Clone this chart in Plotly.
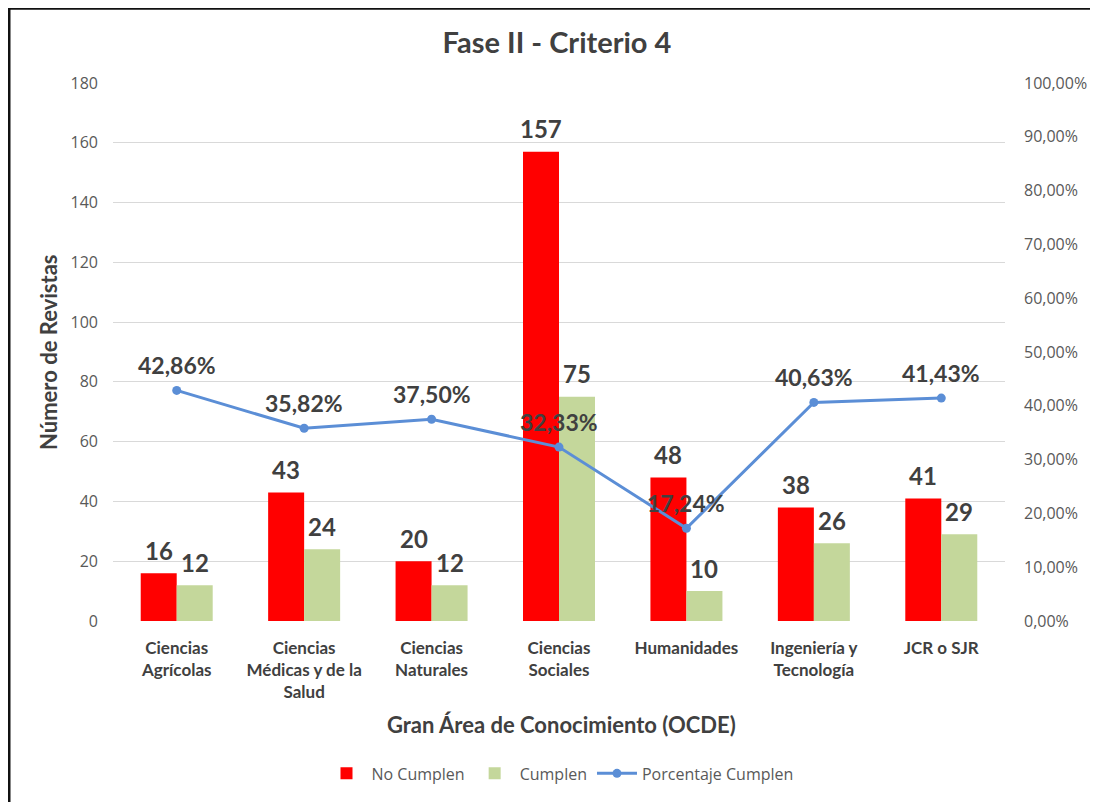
import plotly.graph_objects as go

categories = ["Ciencias<br>Agrícolas", "Ciencias<br>Médicas y de la<br>Salud", "Ciencias<br>Naturales",
              "Ciencias<br>Sociales", "Humanidades", "Ingeniería y<br>Tecnología", "JCR o SJR"]
no_cumplen = [16, 43, 20, 157, 48, 38, 41]
cumplen = [12, 24, 12, 75, 10, 26, 29]
porcentaje = [0.4286, 0.3582, 0.3750, 0.3233, 0.1724, 0.4063, 0.4143]

# page is offset by 8px body margin
OFF = 8
W, H = 1098 - OFF, 802 - OFF
L, T = 113 - OFF, 83 - OFF
R = W - (1005 - OFF)
B = H - (623 - OFF)
pw, ph = W - L - R, H - T - B
# helpers: page pixel -> paper coords
def px(x):
    return (x - OFF - L) / pw
def py(y):
    return (H - B - (y - OFF)) / ph

RED = "#FF0000"
GREEN = "#C4D79B"
BLUE = "#5B8ED6"
DARK = "#404040"
GRAY = "#595959"
BOLD = "Lato, 'Open Sans', sans-serif"
REG = "'Open Sans', sans-serif"

fig = go.Figure()
fig.add_trace(go.Bar(x=categories, y=no_cumplen, name="No Cumplen", marker_color=RED,
                     marker_line_width=0))
fig.add_trace(go.Bar(x=categories, y=cumplen, name="Cumplen", marker_color=GREEN,
                     marker_line_width=0))
fig.add_trace(go.Scatter(x=categories, y=porcentaje, name="Porcentaje Cumplen", yaxis="y2",
                         mode="lines+markers", line=dict(color=BLUE, width=3),
                         marker=dict(size=9, color=BLUE)))

anns = []
for i, c in enumerate(categories):
    anns.append(dict(x=c, y=no_cumplen[i], xref="x", yref="y", text=f"<b>{no_cumplen[i]}</b>",
                     showarrow=False, xshift=-18, yshift=23, yanchor="middle",
                     font=dict(size=24, color=DARK, family=BOLD)))
    anns.append(dict(x=c, y=cumplen[i], xref="x", yref="y", text=f"<b>{cumplen[i]}</b>",
                     showarrow=False, xshift=18, yshift=23, yanchor="middle",
                     font=dict(size=24, color=DARK, family=BOLD)))
    anns.append(dict(x=c, y=porcentaje[i], xref="x", yref="y2",
                     text="<b>" + f"{porcentaje[i]*100:.2f}".replace(".", ",") + "%</b>",
                     showarrow=False, yshift=25, yanchor="middle",
                     font=dict(size=23, color=DARK, family=BOLD)))

anns.append(dict(x=px(561), y=py(727), xref="paper", yref="paper",
                 text="<b>Gran Área de Conocimiento (OCDE)</b>", showarrow=False,
                 xanchor="center", yanchor="middle",
                 font=dict(size=22, color=DARK, family=BOLD)))
anns.append(dict(x=px(48), y=py(353), xref="paper", yref="paper", textangle=-90,
                 text="<b>Número de Revistas</b>", showarrow=False, xanchor="center", yanchor="middle",
                 font=dict(size=22, color=DARK, family=BOLD)))

shapes = [
    dict(type="line", xref="paper", yref="paper", x0=px(8), x1=px(1110),
         y0=py(8), y1=py(8), line=dict(color="#111111", width=3)),
    dict(type="line", xref="paper", yref="paper", x0=px(9), x1=px(9),
         y0=py(8), y1=py(815), line=dict(color="#111111", width=3)),
]

fig.update_layout(
    width=W, height=H,
    margin=dict(l=L, r=R, t=T, b=B),
    paper_bgcolor="white", plot_bgcolor="white",
    separators=",.",
    barmode="group", bargap=0.435, bargroupgap=0,
    title=dict(text="<b>Fase II - Criterio 4</b>", x=px(557), xref="paper", xanchor="center",
               y=1 - (43 - OFF) / H, yanchor="middle",
               font=dict(size=29, color=DARK, family=BOLD)),
    xaxis=dict(tickfont=dict(size=17, color=DARK, family=BOLD, weight="bold"), showgrid=False,
               ticks="", showline=False, ticklabelstandoff=15),
    yaxis=dict(range=[0, 180], dtick=20, gridcolor="#D9D9D9", gridwidth=1, zeroline=False,
               tickfont=dict(size=16, color=GRAY, family=REG), ticks="", ticklabelstandoff=14),
    yaxis2=dict(range=[0, 1], dtick=0.1, tickformat=".2%", overlaying="y", side="right",
                showgrid=False, zeroline=False, tickfont=dict(size=16, color=GRAY, family=REG),
                ticklabelstandoff=18),
    legend=dict(orientation="h", x=px(560), xanchor="center", y=py(776), yanchor="middle",
                font=dict(size=16, color=GRAY, family=REG), traceorder="normal",
                itemwidth=40),
    annotations=anns,
    shapes=shapes,
    showlegend=True,
)

fig.write_html("out.html")
